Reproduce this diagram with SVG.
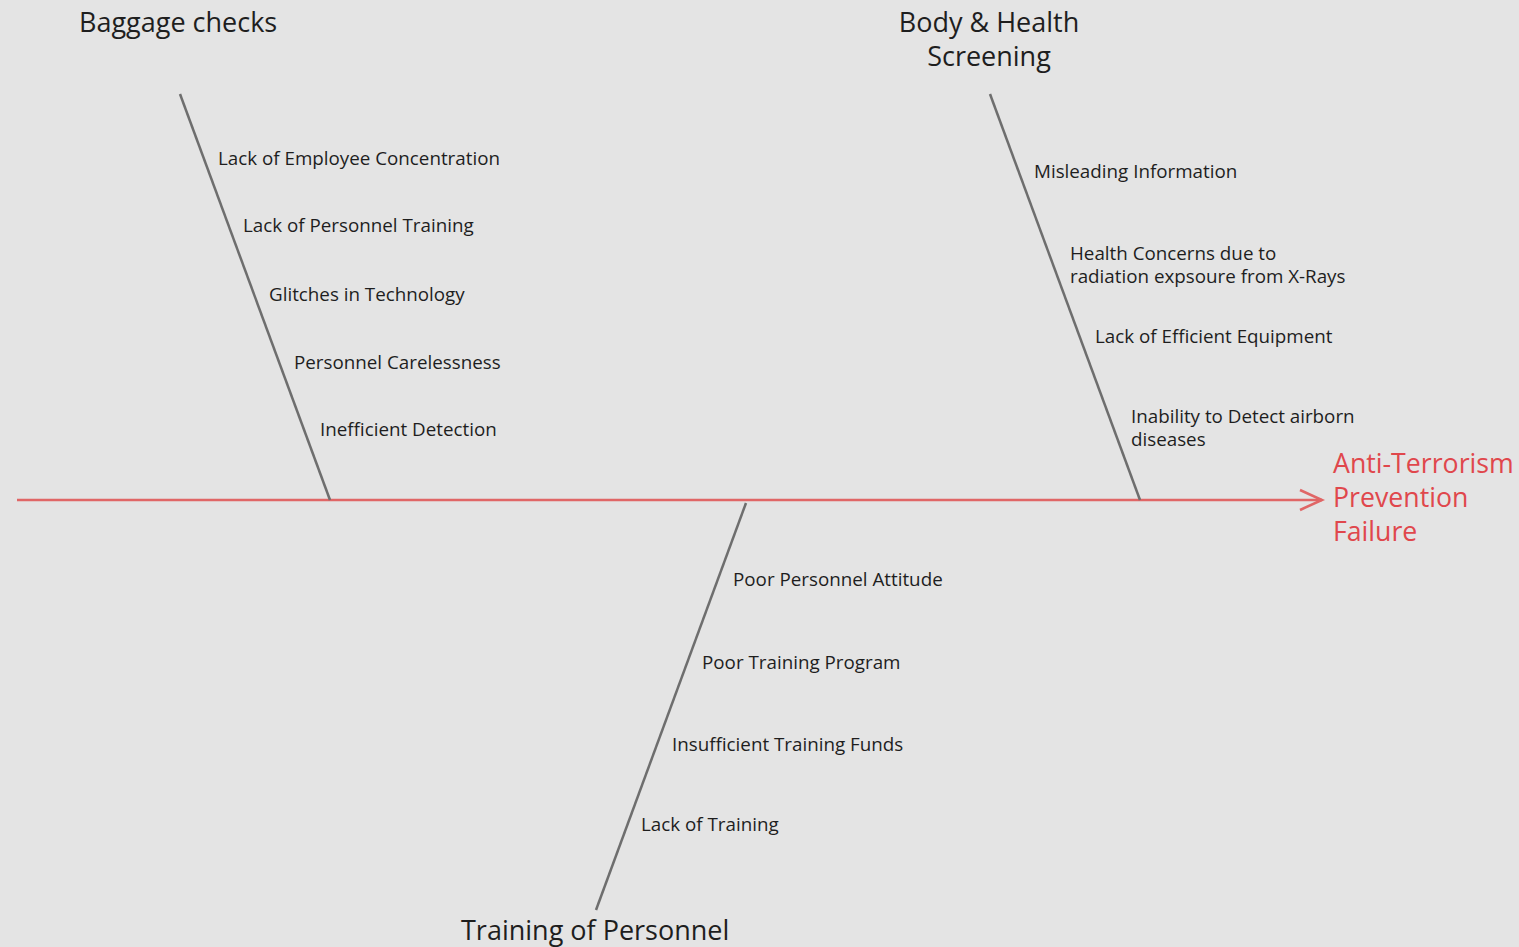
<svg xmlns="http://www.w3.org/2000/svg" width="1519" height="947" viewBox="0 0 1519 947">
<defs>
<style>
.bg{fill:#e4e4e4}
.bone{stroke:#6e6e6e;stroke-width:2.5;fill:none}
.spine{stroke:#e06666;stroke-width:2.5;fill:none}
.lbl{font-family:"Open Sans","Noto Sans",sans-serif;font-size:18.8px;fill:#1e1e1e}
.title{font-family:"Open Sans","Noto Sans",sans-serif;font-size:27px;fill:#1e1e1e}
.effect{font-family:"Open Sans","Noto Sans",sans-serif;font-size:26.7px;fill:#e0474c}
</style>
</defs>
<rect class="bg" x="0" y="0" width="1519" height="947"/>
<g id="connectors">
<line class="spine" x1="17" y1="500" x2="1322" y2="500"/>
<path d="M1300,490 L1322,500 L1300,510" fill="none" stroke="#e06666" stroke-width="2.5"/>
<line class="bone" x1="180" y1="94" x2="330" y2="500"/>
<line class="bone" x1="990" y1="94" x2="1140" y2="500"/>
<line class="bone" x1="746" y1="503" x2="596" y2="910"/>
</g>
<g id="effect">
<text class="effect" x="1333" y="473">Anti-Terrorism</text>
<text class="effect" x="1333" y="507">Prevention</text>
<text class="effect" x="1333" y="541">Failure</text>
</g>
<g id="baggage">
<text class="title" x="79" y="32">Baggage checks</text>
<text class="lbl" x="218" y="165">Lack of Employee Concentration</text>
<text class="lbl" x="243" y="232">Lack of Personnel Training</text>
<text class="lbl" x="269" y="301">Glitches in Technology</text>
<text class="lbl" x="294" y="369">Personnel Carelessness</text>
<text class="lbl" x="320" y="436">Inefficient Detection</text>
</g>
<g id="body">
<text class="title" x="989" y="32" text-anchor="middle">Body &amp; Health</text>
<text class="title" x="989" y="66" text-anchor="middle">Screening</text>
<text class="lbl" x="1034" y="178">Misleading Information</text>
<text class="lbl" x="1070" y="260">Health Concerns due to</text>
<text class="lbl" x="1070" y="283">radiation expsoure from X-Rays</text>
<text class="lbl" x="1095" y="343">Lack of Efficient Equipment</text>
<text class="lbl" x="1131" y="423">Inability to Detect airborn</text>
<text class="lbl" x="1131" y="446">diseases</text>
</g>
<g id="training">
<text class="title" x="461" y="940">Training of Personnel</text>
<text class="lbl" x="733" y="586">Poor Personnel Attitude</text>
<text class="lbl" x="702" y="669">Poor Training Program</text>
<text class="lbl" x="672" y="751">Insufficient Training Funds</text>
<text class="lbl" x="641" y="831">Lack of Training</text>
</g>
</svg>
